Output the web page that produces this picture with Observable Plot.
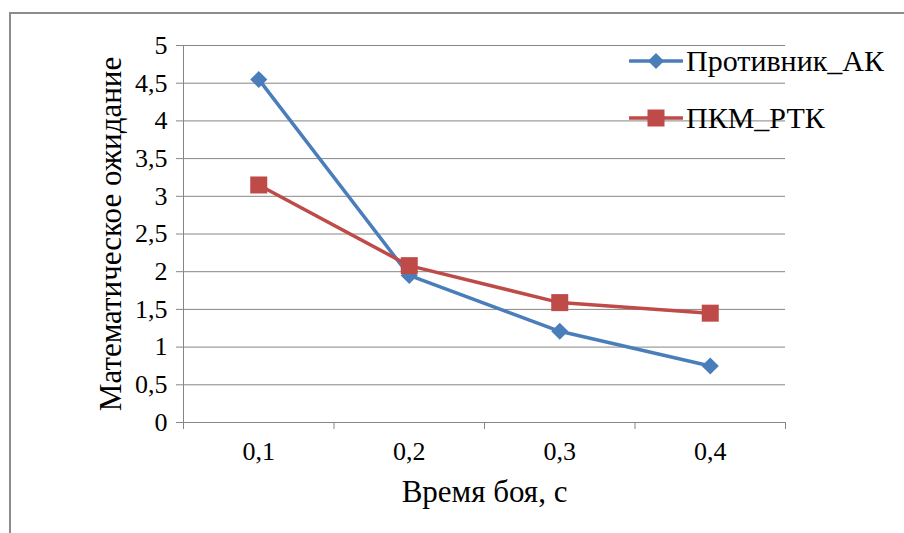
<!DOCTYPE html>
<html>
<head>
<meta charset="utf-8">
<script src="https://cdn.jsdelivr.net/npm/d3@7"></script>
<script src="https://cdn.jsdelivr.net/npm/@observablehq/plot@0.6"></script>
<style>
  html, body { margin: 0; padding: 0; background: #fff; }
  #wrap { position: relative; width: 904px; height: 533px; overflow: hidden; font-family: 'Times New Roman', serif; }
  #frame { position: absolute; left: 9px; top: 12px; width: 900px; height: 530px; border-left: 2px solid #8c8c8c; border-top: 2px solid #8c8c8c; }
  #chart { position: absolute; left: 0; top: 0; }
  #legend { position: absolute; left: 629px; top: 0; }
  .item { position: absolute; left: 0; display: flex; align-items: center; white-space: nowrap; font-size: 30px; color: #000; font-family: 'Times New Roman', serif; }
  .item svg { margin-right: 3px; }
</style>
</head>
<body>
<div id="wrap">
  <div id="frame"></div>
  <div id="chart"></div>
  <div id="legend"></div>
</div>
<script>
// ---- data ----
const categories = [0.1, 0.2, 0.3, 0.4];
const categoryLabels = ["0,1", "0,2", "0,3", "0,4"];
const seriesNames = ["Противник_АК", "ПКМ_РТК"];
const enemyAK = [4.55, 1.95, 1.21, 0.75];
const pkmRTK = [3.15, 2.08, 1.59, 1.45];
const yTicks = [0, 0.5, 1, 1.5, 2, 2.5, 3, 3.5, 4, 4.5, 5];
const yTickLabels = ["0", "0,5", "1", "1,5", "2", "2,5", "3", "3,5", "4", "4,5", "5"];
const categoryBounds = [0.05, 0.15, 0.25, 0.35, 0.45];
const xTitle = "Время боя, с";
const yTitle = "Математическое ожидание";

const colors = ["#4a7ebb", "#be4b48"];
const grid = "#868686";
const serif = "'Times New Roman', serif";

const rows = [];
categories.forEach((c, i) => rows.push({series: seriesNames[0], x: c, y: enemyAK[i]}));
categories.forEach((c, i) => rows.push({series: seriesNames[1], x: c, y: pkmRTK[i]}));
const s0 = rows.filter(d => d.series === seriesNames[0]);
const s1 = rows.filter(d => d.series === seriesNames[1]);

const chart = Plot.plot({
  width: 904,
  height: 533,
  marginLeft: 183,
  marginRight: 119,
  marginTop: 45,
  marginBottom: 111,
  style: {fontFamily: serif, fontSize: "26px", color: "#000", background: "transparent"},
  x: {domain: [0.05, 0.45]},
  y: {domain: [0, 5]},
  color: {domain: seriesNames, range: colors},
  marks: [
    Plot.gridY(yTicks, {stroke: grid, strokeOpacity: 1, strokeWidth: 1}),
    Plot.axisY(yTicks, {tickSize: 7, tickPadding: 9, stroke: grid, strokeOpacity: 1, fontSize: 26, fontFamily: serif,
      tickFormat: d => yTickLabels[yTicks.indexOf(d)], label: null}),
    Plot.ruleX([0.05], {stroke: grid, strokeWidth: 1}),
    Plot.ruleY([0], {stroke: grid, strokeWidth: 1}),
    Plot.axisX(categoryBounds, {tickSize: 7, stroke: grid, strokeOpacity: 1, tickFormat: () => "", label: null}),
    Plot.axisX(categories, {tickSize: 0, tickPadding: 19, fontSize: 26, fontFamily: serif,
      tickFormat: d => categoryLabels[categories.indexOf(d)], label: null}),
    Plot.text([yTitle], {frameAnchor: "left", dx: -72, rotate: -90, textAnchor: "middle", lineAnchor: "middle",
      fontSize: 31, fontFamily: serif, fill: "#000"}),
    Plot.text([xTitle], {frameAnchor: "bottom", dy: 79, textAnchor: "middle", fontSize: 31, fontFamily: serif, fill: "#000"}),
    Plot.line(s0, {x: "x", y: "y", stroke: "series", strokeWidth: 3.5}),
    Plot.dot(s0, {x: "x", y: "y", symbol: "diamond2", fill: "series", r: 7.7, stroke: null}),
    Plot.line(s1, {x: "x", y: "y", stroke: "series", strokeWidth: 3.5}),
    Plot.dot(s1, {x: "x", y: "y", symbol: "square", fill: "series", r: 9.6, stroke: null})
  ]
});
document.getElementById("chart").appendChild(chart);

// legend
const legend = document.getElementById("legend");
const legendTops = [44, 101];
seriesNames.forEach((name, i) => {
  const item = document.createElement("div");
  item.className = "item";
  item.style.top = legendTops[i] + "px";
  const marker = i === 0
    ? `<path d="M27,8 L35,16 L27,24 L19,16 Z" fill="${colors[i]}"/>`
    : `<rect x="18.5" y="7.5" width="17" height="17" fill="${colors[i]}"/>`;
  item.innerHTML = `<svg width="54" height="32"><line x1="1" x2="53" y1="16" y2="16" stroke="${colors[i]}" stroke-width="3.5" stroke-linecap="round"/>${marker}</svg><span>${name}</span>`;
  legend.appendChild(item);
});
</script>
</body>
</html>
